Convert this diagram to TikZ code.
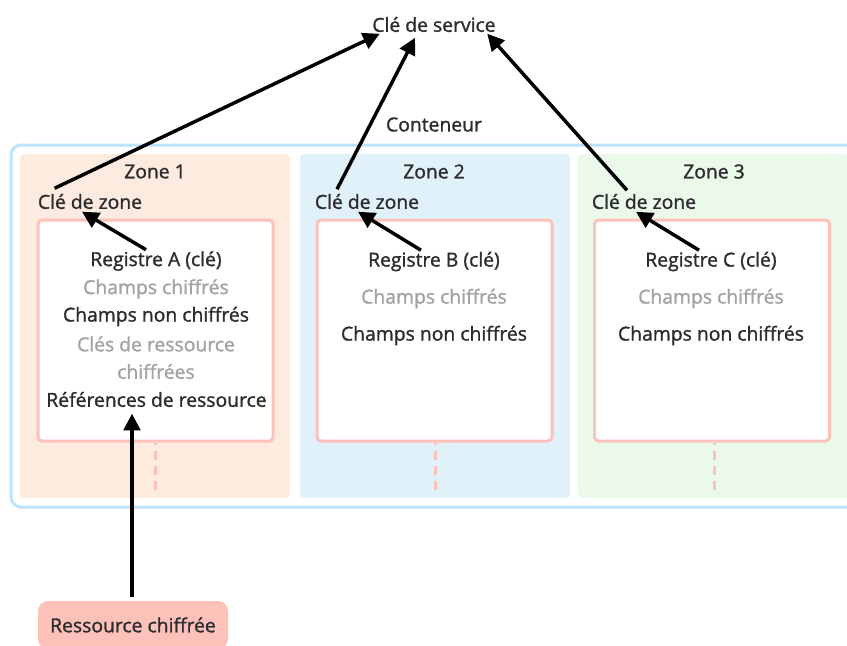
\documentclass[tikz,border=0pt]{standalone}
\usepackage{fontspec}
\setmainfont{Open Sans}
\newfontfamily\lab{Open Sans}[RawFeature={embolden=1.3}]
\usetikzlibrary{arrows.meta}
\newdimen\px \px=0.75pt
\definecolor{ink}{HTML}{2C2C2E}
\definecolor{dim}{HTML}{A3A3A5}
\definecolor{pinkline}{HTML}{FCC2B9}
\definecolor{contline}{HTML}{BCE3FC}
\definecolor{zonea}{HTML}{FDEBDF}
\definecolor{zoneb}{HTML}{E1F1FA}
\definecolor{zonec}{HTML}{EAF9EA}
\definecolor{resfill}{HTML}{FCC2B9}
\tikzset{
  x=0.75pt,y=-0.75pt,
  lbl/.style={inner sep=0pt,text=ink,font=\lab\fontsize{14.5}{16}\selectfont,minimum height=20\px,align=center},
  dimlbl/.style={lbl,text=dim},
  zonebg/.style={draw=none,rounded corners=4\px,inner sep=0pt,minimum height=344\px,minimum width=270\px},
  rec/.style={draw=pinkline,line width=3\px,fill=white,rounded corners=4\px,inner sep=0pt,minimum width=235\px,minimum height=221\px},
  conn/.style={line width=2.6pt,black,-{Triangle[length=12.5pt,width=12.5pt]}},
  dashline/.style={draw=pinkline,line width=3\px,dash pattern=on 9\px off 6\px},
}
\begin{document}
\begin{tikzpicture}
\useasboundingbox (0,0) rectangle (847,646);
\clip (0,0) rectangle (847,646);
% container
\node[draw=contline,line width=3\px,rounded corners=10\px,inner sep=0pt,minimum width=900\px,minimum height=362\px] (cont) at (461,326) {};
% zones
\node[zonebg,fill=zonea] (z1) at (155,326) {};
\node[zonebg,fill=zoneb] (z2) at (435,326) {};
\node[zonebg,fill=zonec] (z3) at (713,326) {};
% records
\node[rec] (r1) at (155.5,330.5) {};
\node[rec] (r2) at (434.5,330.5) {};
\node[rec] (r3) at (712,330.5) {};
% dashed stubs
\coordinate (d1) at (155,490);
\coordinate (d2) at (435,490);
\coordinate (d3) at (714,490);
\draw[dashline] (d1) -- (d1 |- r1.south);
\draw[dashline] (d2) -- (d2 |- r2.south);
\draw[dashline] (d3) -- (d3 |- r3.south);
% titles
\node[lbl,minimum width=128\px] (svc) at (434,24.5) {Clé de service};
\node[lbl,minimum width=96\px] (conttitle) at (434,124.5) {Conteneur};
\node[lbl] (zt1) at (155,171.5) {Zone 1};
\node[lbl] (zt2) at (434,171.5) {Zone 2};
\node[lbl] (zt3) at (714,171.5) {Zone 3};
\node[lbl,minimum width=104\px] (k1) at (90,201.5) {Clé de zone};
\node[lbl,minimum width=104\px] (k2) at (367,201.5) {Clé de zone};
\node[lbl,minimum width=104\px] (k3) at (644,201.5) {Clé de zone};
% record A
\node[lbl,minimum width=138\px] (ra) at (156,261) {Registre A (clé)};
\node[dimlbl] (ra1) at (156,289) {Champs chiffrés};
\node[lbl] (ra2) at (156,316.5) {Champs non chiffrés};
\node[dimlbl] (ra3) at (156,344) {Clés de ressource};
\node[dimlbl] (ra4) at (156,371.5) {chiffrées};
\node[lbl,minimum width=225\px] (ra5) at (156.5,399.5) {Références de ressource};
% record B
\node[lbl,minimum width=138\px] (rb) at (434,261.5) {Registre B (clé)};
\node[dimlbl] (rb1) at (434,298.5) {Champs chiffrés};
\node[lbl] (rb2) at (434,335.5) {Champs non chiffrés};
% record C
\node[lbl,minimum width=138\px] (rc) at (711,261.5) {Registre C (clé)};
\node[dimlbl] (rc1) at (711,298.5) {Champs chiffrés};
\node[lbl] (rc2) at (711,335.5) {Champs non chiffrés};
% resource
\node[lbl,fill=resfill,rounded corners=10\px,minimum width=190\px,minimum height=48\px] (res) at (133,625) {Ressource chiffrée};
% connectors
\draw[conn] ([xshift=17\px,yshift=3\px]k1.north west) -- ([xshift=10\px,yshift=1\px]svc.south west);
\draw[conn] ([xshift=-30\px,yshift=2\px]k2.north) -- ([xshift=-19\px,yshift=-3\px]svc.south);
\draw[conn] ([xshift=-17\px,yshift=1\px]k3.north) -- ([xshift=-11\px,yshift=1\px]svc.south east);
\draw[conn] ([xshift=-10\px,yshift=1\px]ra.north) -- ([xshift=-8\px]k1.south);
\draw[conn] ([xshift=-13\px,yshift=1\px]rb.north) -- ([xshift=-9\px]k2.south);
\draw[conn] ([xshift=-12\px,yshift=1\px]rc.north) -- ([xshift=-8\px]k3.south);
\draw[conn] ([yshift=4\px,xshift=-1\px]res.north) -- ([xshift=-24.5\px,yshift=-4\px]ra5.south);
\end{tikzpicture}
\end{document}
